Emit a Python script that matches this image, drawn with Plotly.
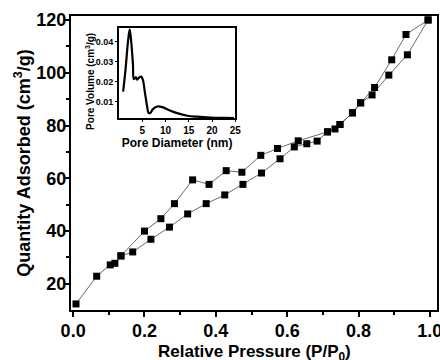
import plotly.graph_objects as go

# Adsorption branch (lower)
ads_p = [0.008, 0.066, 0.104, 0.117, 0.134, 0.167, 0.218, 0.270, 0.321, 0.373, 0.425, 0.476,
         0.528, 0.580, 0.620, 0.655, 0.684, 0.713, 0.748, 0.783, 0.806, 0.838, 0.885, 0.937, 0.995]
ads_q = [12.4, 22.9, 27.2, 27.8, 30.6, 32.1, 36.9, 41.5, 46.5, 50.4, 53.7, 57.7,
         62.0, 67.4, 71.9, 73.1, 74.1, 77.6, 80.4, 84.8, 88.6, 91.6, 99.1, 106.8, 120.0]
# Desorption branch (upper)
des_p = [0.995, 0.933, 0.893, 0.845, 0.806, 0.783, 0.748, 0.734, 0.713, 0.631, 0.573, 0.526,
         0.473, 0.429, 0.381, 0.335, 0.284, 0.246, 0.200, 0.134]
des_q = [120.0, 114.5, 104.9, 94.4, 88.6, 84.8, 80.4, 78.7, 77.6, 74.2, 71.3, 68.7,
         62.3, 62.9, 57.7, 59.4, 50.4, 44.7, 40.0, 30.6]

# Inset: pore size distribution
pore_d = [0.9, 1.4, 1.9, 2.3, 2.6, 3.0, 3.2, 3.6, 3.9, 4.4, 4.8, 5.15, 5.6, 6.0, 6.4, 6.8,
          7.3, 8.2, 9.3, 10.7, 12.5, 14.7, 16.8, 19.7, 22.6, 24.7]
pore_v = [0.015, 0.0258, 0.039, 0.0462, 0.0408, 0.029, 0.0212, 0.0222, 0.021, 0.0222, 0.0225,
          0.0208, 0.0142, 0.0083, 0.0042, 0.0045, 0.0062, 0.0075, 0.0072, 0.0058, 0.0042,
          0.0029, 0.0024, 0.0020, 0.0018, 0.0017]

BF = dict(family="Liberation Sans, Arial, sans-serif", color="black", weight="bold")

fig = go.Figure()
for px_, qy in [(ads_p, ads_q), (des_p, des_q)]:
    fig.add_trace(go.Scatter(x=px_, y=qy, mode="lines+markers",
                             line=dict(color="#444444", width=0.8),
                             marker=dict(symbol="square", size=7, color="black"),
                             showlegend=False, xaxis="x", yaxis="y"))
fig.add_trace(go.Scatter(x=pore_d, y=pore_v, mode="lines", line=dict(color="black", width=2.2, shape="spline"),
                         showlegend=False, xaxis="x2", yaxis="y2"))

fig.update_layout(
    width=440, height=360,
    margin=dict(l=71, r=3, t=16, b=50, autoexpand=False),
    paper_bgcolor="white", plot_bgcolor="white",
    xaxis=dict(range=[-0.006, 1.02], tickvals=[0, 0.2, 0.4, 0.6, 0.8, 1.0],
               ticktext=["0.0", "0.2", "0.4", "0.6", "0.8", "1.0"], automargin=False,
               ticklabeloverflow="allow", ticklabelstandoff=-2,
               ticks="outside", ticklen=5, tickwidth=2, tickcolor="black",
               minor=dict(tickvals=[0.1, 0.3, 0.5, 0.7, 0.9], ticks="outside", ticklen=3, tickwidth=1.5, tickcolor="black"),
               showline=True, linewidth=2, linecolor="black", mirror=True,
               showgrid=False, zeroline=False,
               tickfont=dict(size=18, **BF)),
    yaxis=dict(range=[10.1, 121.5], tickvals=[20, 40, 60, 80, 100, 120], automargin=False,
               ticklabeloverflow="allow", ticklabelstandoff=-6,
               ticks="outside", ticklen=5, tickwidth=2, tickcolor="black",
               minor=dict(tickvals=[30, 50, 70, 90, 110], ticks="outside", ticklen=3, tickwidth=1.5, tickcolor="black"),
               showline=True, linewidth=2, linecolor="black", mirror=True,
               showgrid=False, zeroline=False,
               tickfont=dict(size=18, **BF),
               title=dict(text="Quantity Adsorbed (cm<sup>3</sup>/g)", font=dict(size=18, **BF), standoff=1)),
    xaxis2=dict(domain=[0.131, 0.449], anchor="y2", range=[0, 25], automargin=False,
                tickvals=[5, 10, 15, 20, 25], ticks="outside", ticklen=2, tickwidth=1, tickcolor="black",
                showline=True, linewidth=1.5, linecolor="black", mirror=True,
                showgrid=False, zeroline=False,
                tickfont=dict(size=10, **BF),
                title=dict(text="Pore Diameter (nm)", font=dict(size=12, **BF), standoff=0)),
    yaxis2=dict(domain=[0.652, 0.958], anchor="x2", range=[0.0016, 0.0467], automargin=False,
                tickvals=[0.01, 0.02, 0.03, 0.04], ticktext=["0.01", "0.02", "0.03", "0.04"],
                ticks="outside", ticklen=2, tickwidth=1, tickcolor="black",
                showline=True, linewidth=1.5, linecolor="black", mirror=True,
                showgrid=False, zeroline=False,
                tickfont=dict(size=9, **BF)),
    annotations=[
        dict(text="Pore Volume (cm<sup>3</sup>/g)", textangle=-90, xref="paper", yref="paper",
             x=0.052, y=0.776, xanchor="center", yanchor="middle", showarrow=False,
             font=dict(size=10, **BF)),
        dict(text="Relative Pressure (P/P<sub>0</sub>)", xref="paper", yref="paper",
             x=0.5, y=-0.145, xanchor="center", yanchor="middle", showarrow=False,
             font=dict(size=17, **BF)),
    ],
)

fig.write_html("out.html", config={"displayModeBar": False},
               post_script="document.body.style.margin='0';document.body.style.overflow='hidden';")
